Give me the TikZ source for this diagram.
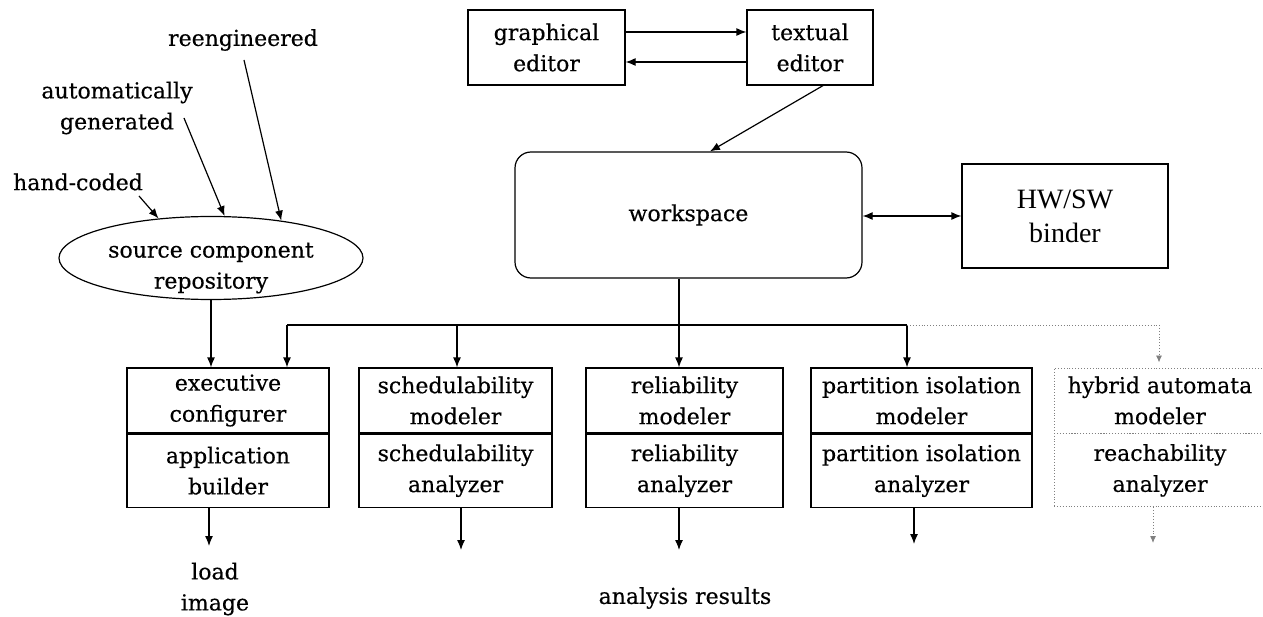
\documentclass[tikz,border=0pt]{standalone}
\usepackage{fontspec}
\setmainfont{DejaVu Serif}[FakeBold=0.4]
\newfontfamily\timesf{Liberation Serif}
\usetikzlibrary{arrows.meta,shapes.geometric}
\begin{document}
\begin{tikzpicture}[x=1pt,y=-1pt,
  every node/.style={font=\fontsize{22}{31}\selectfont, align=center},
  box/.style={draw, line width=1.2pt, inner sep=0pt},
  dbox/.style={draw=gray, dotted, line width=0.9pt, inner sep=0pt},
  conn/.style={line width=1.2pt},
  arr/.style={-{Latex[length=10pt,width=8pt]}, line width=1.2pt},
  arrb/.style={{Latex[length=10pt,width=8pt]}-{Latex[length=10pt,width=8pt]}, line width=1.2pt},
  darr/.style={-{Latex[length=7pt,width=6pt]}, draw=gray, dotted, line width=0.9pt},
  dconn/.style={draw=gray, dotted, line width=0.9pt}
]
\useasboundingbox (0,0) rectangle (1263,617);

% top editors
\node[box, minimum width=157, minimum height=75] (ge) at (546.5,47.5) {graphical\\editor};
\node[box, minimum width=126, minimum height=75] (te) at (810,47.5) {textual\\editor};
\node[box, rounded corners=16pt, minimum width=347, minimum height=126] (ws) at (688.5,215) {workspace};
\node[box, minimum width=206, minimum height=104, font=\timesf\fontsize{28}{34}\selectfont] (hw) at (1065,216) {HW/SW\\binder};

\draw[arr] ([yshift=15.5pt]ge.east) -- ([yshift=15.5pt]ge.east -| te.west);
\draw[arr] ([yshift=-14.5pt]te.west) -- ([yshift=-14.5pt]te.west -| ge.east);
\draw[arr] ([xshift=13pt]te.south) -- ([xshift=21.5pt]ws.north);
\draw[arrb] (hw.west -| ws.east) -- (hw.west);

% source repository
\node[ellipse, draw, line width=1.2pt, minimum width=304, minimum height=83, inner sep=0pt] (src) at (211,258) {};
\node (srcT) at (211,268) {source component\\repository};
\node (re) at (243,40) {reengineered};
\node (au) at (117,108) {automatically\\generated};
\node (hc) at (78,182) {hand-coded};
\coordinate (reS) at (244,60);
\coordinate (auS) at (184,118);
\coordinate (hcS) at (139,196);
\draw[arr] (reS) -- (src.28);
\draw[arr] (auS) -- (src.72);
\draw[arr] (hcS) -- (src.143);

% tool boxes
\node[box, minimum width=202, minimum height=65] (exT) at (228,400.5) {executive\\configurer};
\node[box, minimum width=202, minimum height=73, anchor=north] (exB) at (exT.south) {application\\builder};
\node[box, minimum width=193, minimum height=65] (schT) at (455.5,400.5) {schedulability\\modeler};
\node[box, minimum width=193, minimum height=73, anchor=north] (schB) at (schT.south) {schedulability\\analyzer};
\node[box, minimum width=197, minimum height=65] (relT) at (684.5,400.5) {reliability\\modeler};
\node[box, minimum width=197, minimum height=73, anchor=north] (relB) at (relT.south) {reliability\\analyzer};
\node[box, minimum width=221, minimum height=65] (parT) at (921.5,400.5) {partition isolation\\modeler};
\node[box, minimum width=221, minimum height=73, anchor=north] (parB) at (parT.south) {partition isolation\\analyzer};
\node[dbox, minimum width=212, minimum height=65] (hybT) at (1160,400.5) {hybrid automata\\modeler};
\node[dbox, minimum width=212, minimum height=73, anchor=north] (hybB) at (hybT.south) {reachability\\analyzer};

% bus
\coordinate (bL) at (287,325);
\coordinate (bS) at (457,325);
\coordinate (bM) at (679,325);
\coordinate (bP) at (907,325);
\coordinate (bH) at (1159,325);
\draw[arr] (bM |- ws.south) -- (bM |- relT.north);
\draw[conn] (bL) -- (bP);
\draw[arr] (bL) -- (bL |- exT.north);
\draw[arr] (bS) -- (bS |- schT.north);
\draw[arr] (bP) -- (bP |- parT.north);
\draw[dconn] (bP) -- (bH);
\draw[darr] (bH) -- ([yshift=5pt]bH |- hybT.north);
\draw[arr] (src.south) -- (src.south |- exT.north);

% outputs
\coordinate (oE) at (209,546);
\coordinate (oS) at (461,550);
\coordinate (oR) at (679,550);
\coordinate (oP) at (914,544);
\coordinate (oH) at (1153,543);
\draw[arr] (oE |- exB.south) -- (oE);
\draw[arr] (oS |- schB.south) -- (oS);
\draw[arr] (oR |- relB.south) -- (oR);
\draw[arr] (oP |- parB.south) -- (oP);
\draw[darr] (oH |- hybB.south) -- (oH);

\node (li) at (215,589) {load\\image};
\node (ar) at (685,598) {analysis results};
\end{tikzpicture}
\end{document}
